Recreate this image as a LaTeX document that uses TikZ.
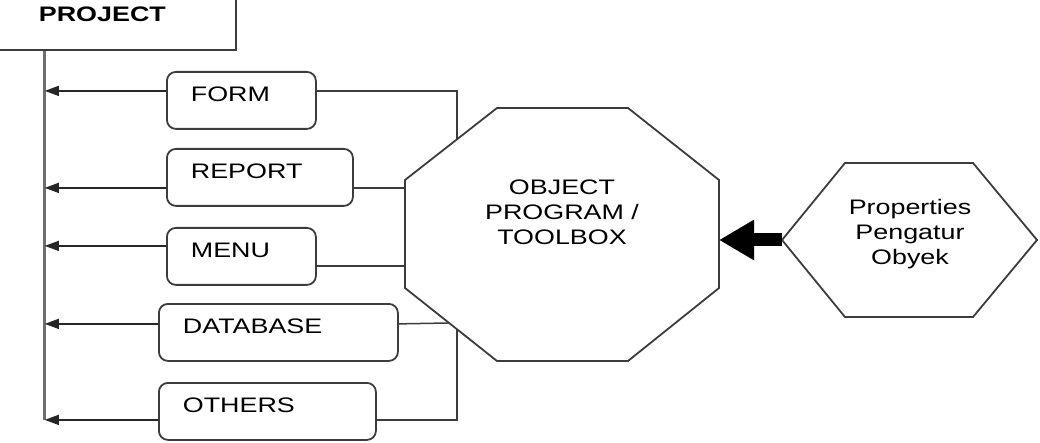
\documentclass[tikz,border=0pt]{standalone}
\usepackage{fontspec}
\setmainfont{Liberation Sans}[FakeStretch=1.28]
\usetikzlibrary{arrows.meta,calc}
\definecolor{linegray}{RGB}{60,60,60}
\definecolor{trunkgray}{RGB}{110,110,110}
\newcommand{\boxfont}{\fontsize{21}{25}\selectfont}

\begin{document}
\begin{tikzpicture}[x=1pt,y=-1pt,
    modbox/.style={draw=linegray, line width=1.8pt, rounded corners=9pt, anchor=north west,
      inner xsep=24pt, inner ysep=0pt, text height=29.5pt, text depth=27.5pt,
      text width=#1, align=left, font=\boxfont},
    feed/.style={draw=black!85, line width=1.4pt, -{Triangle[length=14pt,width=10pt]}},
    link/.style={draw=linegray, line width=1.5pt},
    outline/.style={draw=linegray, line width=1.8pt, fill=white},
    push/.style={draw=black, line width=13pt, -{Triangle[length=35pt,width=38pt]}}]
        \useasboundingbox (0,0) rectangle (1040,443);
        \clip (0,0) rectangle (1040,443);
        % Project
        \node[draw=linegray, line width=2.2pt, anchor=south east, inner xsep=50pt, inner ysep=0pt,
          text height=32.5pt, text depth=28.5pt, text width=147pt, align=left,
          font=\boxfont\bfseries] (project) at (237,51) {PROJECT};
        \coordinate (trunk) at ($(project.south west)+(57,0)$);
        % Modules
        \node[modbox=101pt] (form)     at (166,71)  {FORM};
        \node[modbox=138pt] (report)   at (166,148) {REPORT};
        \node[modbox=101pt] (menu)     at (166,227) {MENU};
        \node[modbox=191pt] (database) at (158,303) {DATABASE};
        \node[modbox=169pt] (others)   at (158,382) {OTHERS};
        % Octagon
        \draw[outline] (497,108) coordinate (o1) -- (628,108) coordinate (o2)
          -- (719,180) coordinate (o3) -- (719,288) coordinate (o4)
          -- (628,361) coordinate (o5) -- (497,361) coordinate (o6)
          -- (405,288) coordinate (o7) -- (405,180) coordinate (o8) -- cycle;
        \node[font=\boxfont, align=center] (obj) at (562,212) {OBJECT\\PROGRAM /\\TOOLBOX};
        % Hexagon
        \draw[outline] (782,240) coordinate (h1) -- (845,163) -- (973,163)
          -- (1037,240) -- (973,317) -- (845,317) -- cycle;
        \node[font=\boxfont, align=center] (prop) at (910,234) {Properties\\Pengatur\\Obyek};
        % Trunk and arrows
        \draw[trunkgray, line width=3pt] (trunk) -- ([yshift=-8.5pt]others.west -| trunk);
        \foreach \b/\s in {form/9.5, report/-10.5, menu/10.5, database/8.5, others/-8.5}
          \draw[feed] ([yshift=\s pt]\b.west) -- ([yshift=\s pt]\b.west -| trunk);
        % Links to octagon
        \draw[link] ([yshift=9.5pt]form.east) -| ($(o1)!0.435!(o8)$);
        \draw[link] ([yshift=-10.5pt]report.east) -- ([yshift=-10.5pt]report.east -| o8);
        \draw[link] ([yshift=-9.5pt]menu.east) -- ([yshift=-9.5pt]menu.east -| o8);
        \draw[link] ([yshift=8.5pt]database.east) -- ($(o7)!0.479!(o6)$);
        \draw[link] ([yshift=-8.5pt]others.east) -| ($(o7)!0.565!(o6)$);
        % Properties arrow
        \draw[push] (h1) -- (h1 -| o3);
\end{tikzpicture}
\end{document}
